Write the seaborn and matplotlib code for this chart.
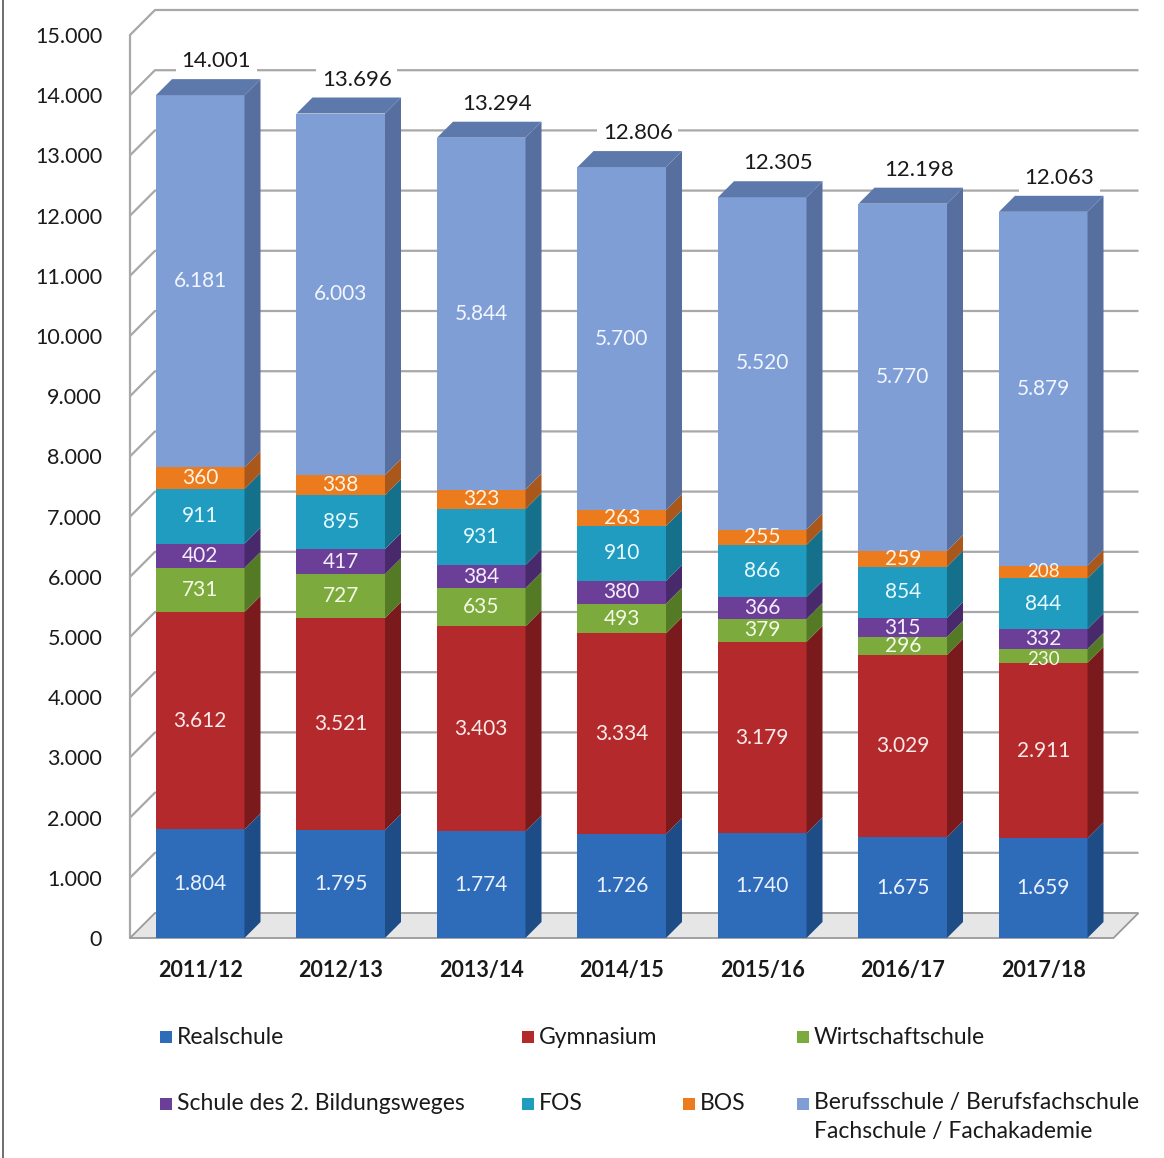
import numpy as np
import pandas as pd
import matplotlib
matplotlib.use("Agg")
import matplotlib.pyplot as plt
import seaborn as sns
from matplotlib.patches import Polygon, Rectangle
from matplotlib.lines import Line2D

# ---------------- data ----------------
years = ["2011/12", "2012/13", "2013/14", "2014/15", "2015/16", "2016/17", "2017/18"]
realschule = [1804, 1795, 1774, 1726, 1740, 1675, 1659]
gymnasium = [3612, 3521, 3403, 3334, 3179, 3029, 2911]
wirtschaftschule = [731, 727, 635, 493, 379, 296, 230]
schule_2bw = [402, 417, 384, 380, 366, 315, 332]
fos = [911, 895, 931, 910, 866, 854, 844]
bos = [360, 338, 323, 263, 255, 259, 208]
berufsschule = [6181, 6003, 5844, 5700, 5520, 5770, 5879]
totals = [14001, 13696, 13294, 12806, 12305, 12198, 12063]

series_names = ["Realschule", "Gymnasium", "Wirtschaftschule",
                "Schule des 2. Bildungsweges", "FOS", "BOS",
                "Berufsschule / Berufsfachschule\nFachschule / Fachakademie"]
series_values = [realschule, gymnasium, wirtschaftschule, schule_2bw, fos, bos, berufsschule]
y_ticks = list(range(0, 15001, 1000))

# ---------------- styles ----------------
front_colors = ["#2E6CB9", "#B42A2C", "#7DAA3C", "#6B3F97", "#1F9CC0", "#EC7B1E", "#7F9ED5"]
side_colors = ["#1E4C86", "#7A1A1C", "#557A25", "#482A6C", "#14708B", "#A9571A", "#566F9F"]
top_color = "#5D79AC"
label_colors = ["#EAF1FF", "#FBEAEA", "#F4FBE6", "#F3ECFB", "#E8FAFF", "#FFF3E2", "#F2F6FF"]

W, H = 1164, 1158
sns.set_theme(style="white")
plt.rcParams['font.family'] = ['Lato', 'DejaVu Sans']

fig = plt.figure(figsize=(W / 100, H / 100), dpi=100)
ax_left, ax_bottom_px, ax_w_px, ax_top_px = 130, 938, 983.5, 35
ax = fig.add_axes([ax_left / W, (H - ax_bottom_px) / H, ax_w_px / W, (ax_bottom_px - ax_top_px) / H])

vals = np.array(series_values, dtype=float)
cum = np.cumsum(vals, axis=0)
bottoms = cum - vals
n_layers = len(series_values)

BAR_W = 0.63
for k in reversed(range(n_layers)):
    df = pd.DataFrame({"year": years, "value": cum[k]})
    sns.barplot(data=df, x="year", y="value", color=front_colors[k], saturation=1,
                width=BAR_W, ax=ax, zorder=3, edgecolor="none", linewidth=0, errorbar=None)

ax.set_xlim(-0.5, 6.5)
ax.set_ylim(0, 15000)

px_x = ax_w_px / 7.0
px_y = (ax_bottom_px - ax_top_px) / 15000.0
ddx, ddy = 16 / px_x, 16 / px_y        # bar depth
gdx, gdy = 25 / px_x, 25 / px_y        # wall depth

bars = ax.patches[:len(years)]
for i, p in enumerate(bars):
    xl = p.get_x()
    xr = xl + p.get_width()
    xc = xl + p.get_width() / 2
    for k in range(n_layers):
        b, t = bottoms[k][i], cum[k][i]
        ax.add_patch(Polygon([(xr, b), (xr + ddx, b + ddy), (xr + ddx, t + ddy), (xr, t)],
                             closed=True, facecolor=side_colors[k], edgecolor="none",
                             zorder=3, clip_on=False))
        fs, yshift = 15, 0.0
        if vals[k][i] < 250:
            fs = 13.5
            if k + 1 < n_layers and vals[k + 1][i] < 400:
                yshift = -4 / px_y
        ax.text(xc, (b + t) / 2 + yshift, f"{int(vals[k][i]):,}".replace(",", "."), ha="center",
                va="center", fontsize=fs, color=label_colors[k], zorder=6)
    T = cum[-1][i]
    ax.add_patch(Polygon([(xl, T), (xl + ddx, T + ddy), (xr + ddx, T + ddy), (xr, T)],
                         closed=True, facecolor=top_color, edgecolor="none", zorder=3, clip_on=False))
    ax.text(xc + ddx, T + ddy + 130, f"{totals[i]:,}".replace(",", "."), ha="center", va="bottom",
            fontsize=16, color="#1A1A1A", zorder=6,
            bbox=dict(boxstyle="square,pad=0.25", facecolor="white", edgecolor="none"))

# walls / gridlines
grid_c = "#A8A8A8"
for v in y_ticks[1:]:
    ax.plot([-0.5, -0.5 + gdx, 6.5 + gdx], [v, v + gdy, v + gdy], color=grid_c, lw=1.6,
            zorder=1, clip_on=False, solid_capstyle="butt")
ax.plot([-0.5, -0.5], [0, 15000], color=grid_c, lw=1.6, zorder=1, clip_on=False)
ax.add_patch(Polygon([(-0.5, 0), (6.5, 0), (6.5 + gdx, gdy), (-0.5 + gdx, gdy)], closed=True,
                     facecolor="#E6E6E6", edgecolor="#9A9A9A", lw=1.3, zorder=1.5, clip_on=False))

ax.set_yticks(y_ticks)
ax.set_yticklabels([f"{v:,}".replace(",", ".") for v in y_ticks], fontsize=15.5, color="#1A1A1A")
ax.set_xticks(range(len(years)))
ax.set_xticklabels(years, fontsize=15.5, fontweight="bold", color="#1A1A1A")
ax.tick_params(axis="y", length=0, pad=20)
ax.tick_params(axis="x", length=0, pad=16)
ax.set_xlabel("")
ax.set_ylabel("")
for s in ax.spines.values():
    s.set_visible(False)
ax.grid(False)

# legend (manual placement)
legend_pos = [(160, 1037), (522, 1037), (797, 1037),
              (160, 1104), (522, 1104), (683, 1104), (797, 1104)]
sq = 12
for k, (x, y) in enumerate(legend_pos):
    fig.add_artist(Rectangle((x / W, 1 - (y + sq / 2) / H), sq / W, sq / H,
                             transform=fig.transFigure, facecolor=front_colors[k], edgecolor="none"))
    if "\n" in series_names[k]:
        fig.text((x + sq + 5) / W, 1 - (y - 12) / H, series_names[k], ha="left", va="top",
                 fontsize=16.5, color="#1A1A1A", linespacing=1.45)
    else:
        fig.text((x + sq + 5) / W, 1 - y / H, series_names[k], ha="left", va="center",
                 fontsize=16.5, color="#1A1A1A")

fig.add_artist(Line2D([3 / W, 3 / W], [0, 1], transform=fig.transFigure, color="#555555", lw=1.2))

fig.savefig("out.png", dpi=100)
